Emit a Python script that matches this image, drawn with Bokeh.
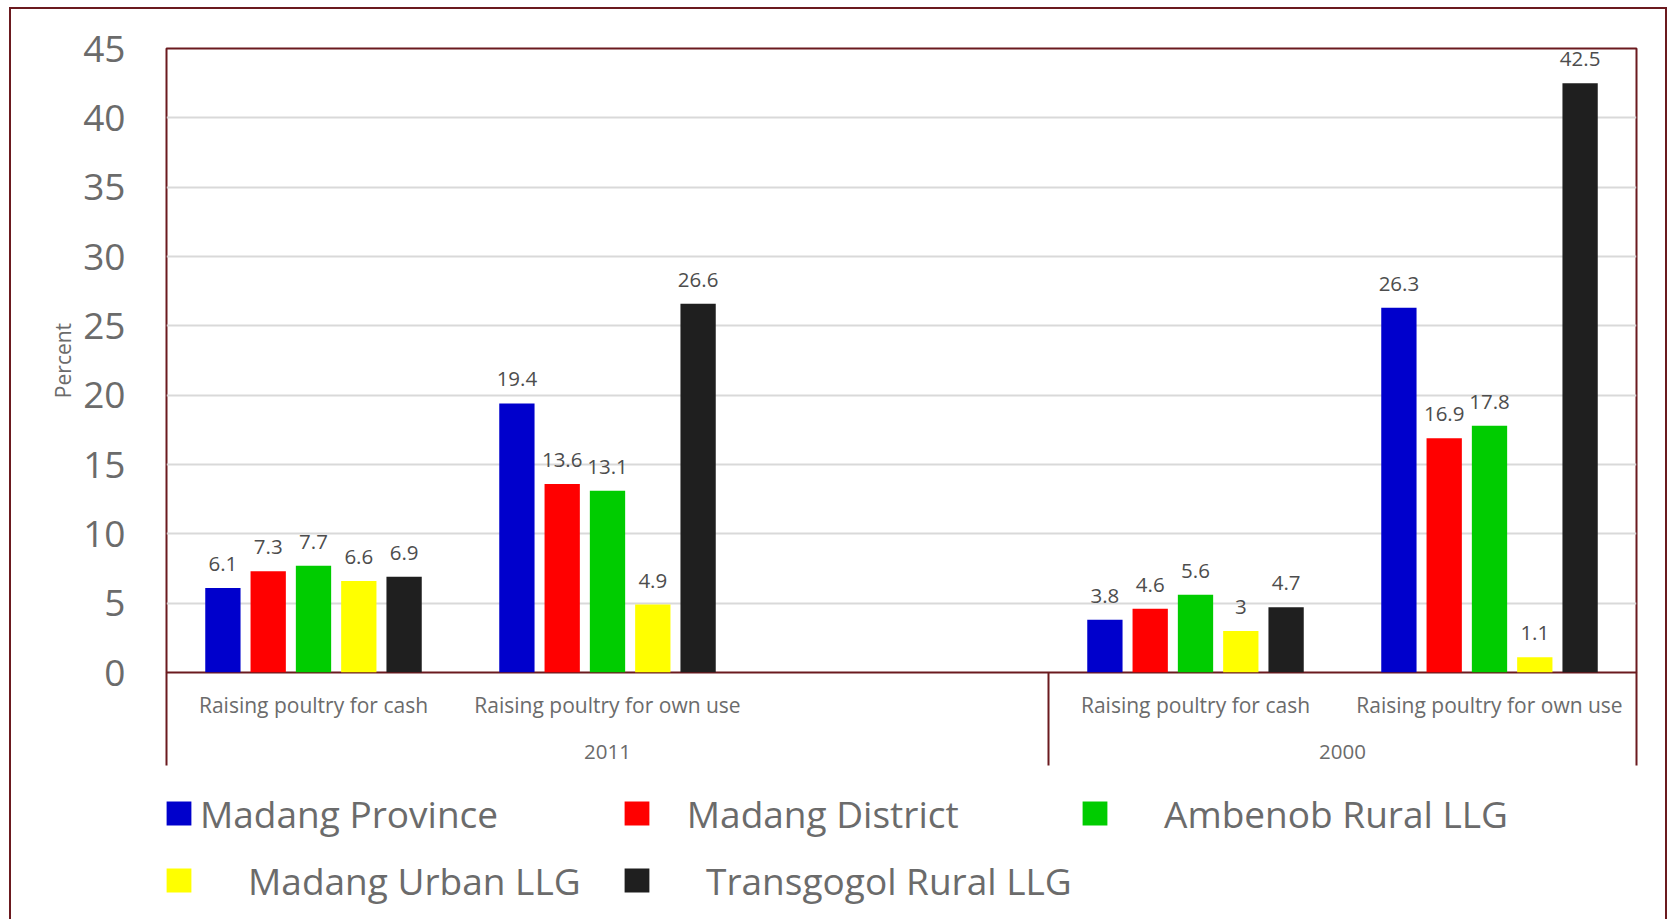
from bokeh.plotting import figure
from bokeh.layouts import column
from bokeh.models import (FactorRange, Range1d, CategoricalAxis, LinearAxis,
                          FixedTicker, ColumnDataSource, Legend, LegendItem)
from bokeh.transform import dodge
from bokeh.core.properties import value
from bokeh.embed import file_html
from bokeh.resources import INLINE

# ---------------- data ----------------
years = ["2011", "2000"]
activities = ["Raising poultry for cash", "Raising poultry for own use"]
series_names = ["Madang Province", "Madang District", "Ambenob Rural LLG",
                "Madang Urban LLG", "Transgogol Rural LLG"]
madang_province = [6.1, 19.4, 3.8, 26.3]
madang_district = [7.3, 13.6, 4.6, 16.9]
ambenob_rural = [7.7, 13.1, 5.6, 17.8]
madang_urban = [6.6, 4.9, 3.0, 1.1]
transgogol_rural = [6.9, 26.6, 4.7, 42.5]
y_ticks = [0, 5, 10, 15, 20, 25, 30, 35, 40, 45]
y_title = "Percent"

series_values = [madang_province, madang_district, ambenob_rural,
                 madang_urban, transgogol_rural]

# ---------------- style ----------------
colors = ["#0000CC", "#FF0000", "#00CC00", "#FFFF00", "#1F1F1F"]
legend_pad = [0, 3, 5, 5, 5]          # leading spaces in the legend entries
FONT_NAME = "Open Sans"
FONT = value(FONT_NAME)
TEXT = "#6B6B6B"
DLAB = "#4D4D4D"
MAROON = "#6B1A1F"

W, H = 1667, 919
H1 = 786                               # main chart height, legend strip below
FRAME_L, FRAME_T, FRAME_R, FRAME_B = 166, 48, 1636, 672
PX_PER_FACTOR = (FRAME_R - FRAME_L) / 5.0
BAR_W = 35.3 / PX_PER_FACTOR
BAR_PITCH = 45.3 / PX_PER_FACTOR
SEP_DROP_PX = 93

# ---------------- factors ----------------
bar_x = [(yr, a) for yr in years for a in activities]
x_factors = []
for i, yr in enumerate(years):
    x_factors += [(yr, a) for a in activities]
    if i == 0:
        x_factors.append((yr, " "))
n_fact = len(x_factors)
boundary = x_factors.index((years[1], activities[0]))

xr = FactorRange(factors=x_factors, factor_padding=0, group_padding=0,
                 subgroup_padding=0, range_padding=0)
yrange = Range1d(start=0, end=max(y_ticks))

p = figure(width=W, height=H1, x_range=xr, y_range=yrange, output_backend="svg",
           toolbar_location=None, x_axis_location=None,
           min_border_left=FRAME_L, min_border_right=W - FRAME_R,
           min_border_top=FRAME_T, min_border_bottom=H1 - FRAME_B,
           border_fill_color=None, background_fill_color="white",
           outline_line_color=MAROON, outline_line_width=2)

# grid / y axis
p.xgrid.visible = False
p.ygrid.ticker = FixedTicker(ticks=y_ticks)
p.ygrid.grid_line_color = "#D9D9D9"
p.ygrid.grid_line_width = 2
ya = p.yaxis[0]
ya.ticker = FixedTicker(ticks=y_ticks)
ya.axis_line_color = None
ya.major_tick_line_color = None
ya.minor_tick_line_color = None
ya.major_tick_out = 0
ya.major_tick_in = 0
ya.major_label_standoff = 41
ya.major_label_text_font = FONT_NAME
ya.major_label_text_font_size = "37px"
ya.major_label_text_color = TEXT
ya.axis_label = y_title
ya.axis_label_text_font = FONT_NAME
ya.axis_label_text_font_size = "21px"
ya.axis_label_text_font_style = "normal"
ya.axis_label_text_color = TEXT
ya.axis_label_standoff = 3

# separator lines below the baseline (group boundaries), as long ticks
sep_ticks = [0, boundary, n_fact]
sep_axis = LinearAxis(ticker=FixedTicker(ticks=sep_ticks))
sep_axis.axis_line_color = None
sep_axis.major_tick_line_color = MAROON
sep_axis.major_tick_line_width = 2
sep_axis.major_tick_in = -SEP_DROP_PX
sep_axis.major_tick_out = 0
sep_axis.minor_tick_line_color = None
sep_axis.major_label_overrides = {t: "" for t in sep_ticks}
sep_axis.major_label_text_font_size = "1px"
sep_axis.major_label_standoff = 0
p.add_layout(sep_axis, "below")

# category axes: first shows the activities, second the years
def make_xaxis(standoff, show_major, show_group):
    ax = CategoricalAxis()
    ax.axis_line_color = None
    ax.major_tick_line_color = None
    ax.minor_tick_line_color = None
    ax.major_tick_out = 0
    ax.major_tick_in = 0
    ax.separator_line_color = None
    ax.major_label_standoff = standoff
    ax.major_label_text_font = FONT_NAME
    ax.major_label_text_font_size = "21px" if show_major else "1px"
    ax.major_label_text_color = TEXT
    ax.major_label_text_alpha = 1 if show_major else 0
    ax.group_text_font = FONT_NAME
    ax.group_text_font_size = "20.5px" if show_group else "1px"
    ax.group_text_font_style = "normal"
    ax.group_text_color = TEXT
    ax.group_text_alpha = 1 if show_group else 0
    return ax

p.add_layout(make_xaxis(18, True, False), "below")
p.add_layout(make_xaxis(23, False, True), "below")

# bars + value labels
data = dict(x=bar_x)
for k, vals in enumerate(series_values):
    data[f"s{k}"] = vals
    data[f"t{k}"] = [f"{v:g}" for v in vals]
src = ColumnDataSource(data)

n_s = len(series_values)
for k in range(n_s):
    off = (k - (n_s - 1) / 2) * BAR_PITCH
    p.vbar(x=dodge("x", off, range=xr), top=f"s{k}", width=BAR_W,
           bottom=0, source=src, fill_color=colors[k], line_color=None)
    p.text(x=dodge("x", off, range=xr), y=f"s{k}", text=f"t{k}", source=src,
           text_font=FONT, text_font_size="20.5px", text_color=DLAB,
           text_align="center", text_baseline="alphabetic", y_offset=-24)

# ---------------- legend strip ----------------
H2 = H - H1
lg = figure(width=W, height=H2, x_range=Range1d(0, 1), y_range=Range1d(0, 1),
            output_backend="svg", toolbar_location=None,
            x_axis_location=None, y_axis_location=None,
            min_border_left=0, min_border_right=0, min_border_top=0,
            min_border_bottom=0, border_fill_color=None,
            background_fill_color=None, outline_line_color=None)
lg.xgrid.visible = False
lg.ygrid.visible = False
# zero-size swatch renderers that only supply the legend colours
swatches = []
for k in range(n_s):
    swatches.append(lg.vbar(x=[0], top=[0], bottom=[0], width=0,
                            fill_color=colors[k], line_color=None))

ITEM_H, SPACING = 60, 7
legend_h = 2 * ITEM_H + SPACING
items = [LegendItem(label="\u00a0" * legend_pad[k] + series_names[k],
                    renderers=[swatches[k]]) for k in range(n_s)]
legend = Legend(items=items, orientation="horizontal", ncols=3,
                location=(-3, H2 + 3 - legend_h),
                margin=0, padding=0, spacing=SPACING,
                glyph_width=31, glyph_height=30, label_standoff=6,
                label_width=414, label_height=ITEM_H,
                label_text_font=FONT_NAME, label_text_font_size="37px",
                label_text_color=TEXT, background_fill_alpha=0,
                border_line_color=None)
lg.add_layout(legend, "center")

layout = column(p, lg, spacing=0)
# outer chart border (left at x=9..11, top at y=7..9, right at the edge)
layout.styles = {"box-shadow": (
    "inset 9px 0 0 0 white, inset 0 7px 0 0 white, "
    f"inset 11px 0 0 0 {MAROON}, inset 0 9px 0 0 {MAROON}, "
    f"inset -2px 0 0 0 {MAROON}")}

open("out.html", "w").write(file_html(layout, INLINE))
